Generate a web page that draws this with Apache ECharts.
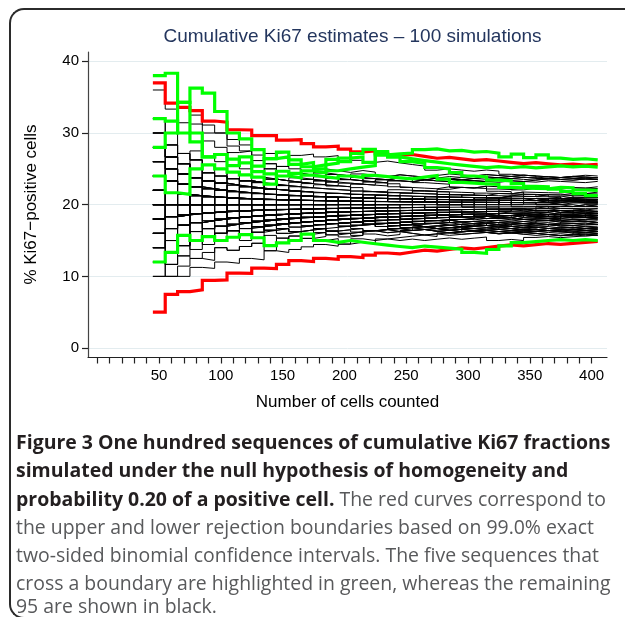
<!DOCTYPE html>
<html>
<head>
<meta charset="utf-8">
<script src="https://cdn.jsdelivr.net/npm/echarts@6/dist/echarts.min.js"></script>
<style>
html,body{margin:0;padding:0;background:#fff;width:625px;height:617px;overflow:hidden;}
#chart{position:absolute;left:0;top:0;width:625px;height:617px;}
#frame{position:absolute;left:9px;top:8px;width:616px;height:611px;border:2px solid #2b2b2b;border-right:none;border-radius:15px 0 0 15px;box-sizing:border-box;pointer-events:none;z-index:5;}
#caption{position:absolute;left:16px;top:428px;font-family:"Open Sans",sans-serif;font-size:18px;color:#58595b;white-space:nowrap;z-index:4;}
#caption .ln{height:28.3px;line-height:28.3px;}
#caption .last{margin-top:-6px;}
#caption b{color:#231f20;font-weight:700;}
</style>
</head>
<body>
<div id="chart"></div>
<div id="caption">
<div class="ln"><span id="l1"><b>Figure 3 One hundred sequences of cumulative Ki67 fractions</b></span></div>
<div class="ln"><b>simulated under the null hypothesis of homogeneity and</b></div>
<div class="ln"><b>probability 0.20 of a positive cell.</b> The red curves correspond to</div>
<div class="ln">the upper and lower rejection boundaries based on 99.0% exact</div>
<div class="ln">two-sided binomial confidence intervals. The five sequences that</div>
<div class="ln"><span id="l6">cross a boundary are highlighted in green, whereas the remaining</span></div>
<div class="ln last">95 are shown in black.</div>
</div>
<div id="frame"></div>
<script>
// ---------- data ----------
const cellCounts = [50,60,70,80,90,100,110,120,130,140,150,160,170,180,190,200,210,220,230,240,250,260,270,280,290,300,310,320,330,340,350,360,370,380,390,400];
const xTickValues = [0,10,20,30,40,50,60,70,80,90,100,110,120,130,140,150,160,170,180,190,200,210,220,230,240,250,260,270,280,290,300,310,320,330,340,350,360,370,380,390,400];
const xLabelValues = [50,100,150,200,250,300,350,400];
const yTickValues = [0,10,20,30,40];

// rejection boundaries (% positive)
const upperBoundary = [37.00,34.17,33.57,33.13,31.67,31.50,30.45,30.42,29.62,29.64,29.00,29.06,28.53,28.06,28.16,27.75,27.38,27.50,27.17,26.88,27.00,26.73,26.48,26.61,26.38,26.17,26.29,26.09,25.91,25.74,25.86,25.69,25.54,25.66,25.51,25.63];
const lowerBoundary = [5.00,7.50,7.86,8.13,9.44,9.50,10.45,10.42,11.15,11.07,11.67,12.19,12.06,12.50,12.37,12.75,12.62,12.95,13.26,13.13,13.40,13.65,13.52,13.75,13.97,13.83,14.03,14.22,14.39,14.26,14.43,14.58,14.46,14.61,14.74,14.88];

// highlighted (boundary-crossing) sequences: cumulative positive counts at each cellCounts value
const greenSeq1 = [19,23,24,29,32,33,33,35,36,37,41,42,43,46,49,53,56,57,62,65,68,72,75,77,80,82,85,87,88,92,93,97,98,100,103,105];
const greenSeq2 = [16,19,21,23,24,27,28,32,33,37,40,41,44,45,50,52,57,61,62,64,66,68,70,72,74,76,78,81,83,86,88,91,94,96,99,101];
const greenSeq3 = [14,18,24,24,24,27,29,31,32,34,36,38,41,43,45,48,50,53,55,57,59,62,65,66,67,69,71,73,74,76,78,80,83,85,86,88];
const greenSeq4 = [12,13,15,20,23,25,27,29,31,32,37,39,42,44,47,50,53,56,63,64,65,67,68,70,71,72,74,75,77,78,79,81,82,83,84,85];
const greenSeq5 = [6,8,11,12,14,15,17,19,20,20,22,24,27,27,28,30,31,32,33,34,35,37,38,39,40,40,41,44,47,50,52,54,56,57,59,60];

// remaining 95 sequences: positives among the first 50 cells, then positives in each further batch of 10 cells
const blackStart = [5,5,6,6,6,6,7,7,7,7,7,7,7,8,8,8,8,8,8,8,8,8,8,9,9,9,9,9,9,9,9,9,9,9,9,9,10,10,10,10,10,10,10,10,10,10,10,10,10,11,11,11,11,11,11,11,11,11,11,11,11,11,11,12,12,12,12,12,12,12,12,12,12,13,13,13,13,13,13,13,13,14,14,14,14,14,14,15,15,15,15,16,16,16,18];
const blackBatches = [
"32312 21323 13222 31242 21302 23132 22213",
"11212 12131 22212 31222 21322 22312 23221",
"12322 31213 22132 42121 12222 31321 22312",
"02213 12203 31231 21123 21212 12122 21321",
"31221 22312 13221 23131 12232 32212 21313",
"13132 20221 12311 23212 31123 22131 21222",
"22131 21232 31212 21222 13231 22212 32121",
"31212 12232 22321 31223 12321 21322 23211",
"21213 32121 12303 22112 21223 13122 12321",
"12232 23312 21431 32212 22321 31312 22231",
"02122 12213 21120 21312 12212 20213 21222",
"32221 21313 22132 11232 23122 13212 22131",
"22312 31222 13122 22131 32213 12221 21322",
"12121 22131 21212 13221 21123 22112 12212",
"23122 31213 22231 21322 12312 23221 31222",
"32131 22212 13212 31222 22131 12321 22213",
"21322 12231 32122 21213 31221 22132 13122",
"13222 32123 22312 41222 13232 22321 32212",
"22121 21312 12211 22121 12212 21221 12131",
"31232 22321 13222 23132 21232 32213 22322",
"22213 13122 21321 32122 12312 21321 23122",
"32322 23122 32213 12332 23212 32123 21332",
"12312 22131 22212 13122 21221 12312 32121",
"23122 21312 22131 31222 12321 23122 21213",
"32213 22132 13222 32312 22131 31322 23212",
"21212 12121 21312 12221 21122 12212 21121",
"32132 23221 32132 21322 23123 22312 32222",
"12213 22122 13212 22131 21222 31212 22122",
"23231 32222 24132 32213 22322 13232 22313",
"21322 12223 22132 31221 22312 21232 31222",
"13122 22213 21231 22122 13212 22221 12312",
"32222 13232 22312 32231 23222 13321 22322",
"22131 21212 12312 21221 12212 31121 21212",
"23212 32132 21322 13222 32213 22132 23221",
"31222 22312 13213 22231 31222 21322 13232",
"22322 31232 23213 32222 22313 32231 22322",
"21222 13212 22131 21312 22122 12212 21321",
"32213 22132 31223 22312 13222 22321 31222",
"12122 21211 12212 21121 12122 21212 11221",
"23232 32223 22332 23232 32322 23223 32232",
"22131 31222 21312 12232 22121 31222 21231",
"31322 22213 32122 21322 32131 22312 13222",
"22212 12131 21212 22121 11222 21212 12212",
"32232 23322 32313 22332 32223 23322 32232",
"21312 22122 13221 22131 21312 22213 12221",
"13222 31232 22312 31222 22231 32122 21322",
"22323 23132 32222 13232 22332 32213 22322",
"12212 21122 12131 22112 21212 11221 22121",
"31222 21312 22131 32122 12213 21322 22131",
"22132 13222 32123 22312 23122 12322 31222",
"21212 12121 21122 11212 21221 12122 12112",
"32322 23232 22342 32232 23322 32232 22332",
"13212 22131 21222 31212 22122 13221 21312",
"22213 31222 13232 22312 32122 21322 23213",
"21231 12212 22121 21312 12212 22121 21221",
"32232 22313 23222 32231 22322 31232 23223",
"12321 21222 31212 22131 21222 12312 22122",
"23122 32213 22131 31222 22312 13222 32212",
"22122 12212 21212 12122 21121 22112 12212",
"31322 22231 32212 23122 12322 32213 22312",
"22212 31212 12221 21222 31221 12212 21222",
"32223 23232 22323 32232 23223 32322 23232",
"21221 12122 21212 12211 21122 12121 21212",
"22312 21322 13222 22131 31222 21312 22213",
"12212 21121 12212 21122 12121 21212 12211",
"32232 23222 32313 22332 23223 32232 23322",
"21312 22131 21222 13212 22122 21321 12222",
"23213 32122 21322 13232 32212 22231 31322",
"12122 21212 12121 21212 11221 21212 12122",
"22231 31222 22132 13222 22312 32122 21322",
"31212 12222 21312 22121 12222 21212 22131",
"22322 32232 23223 22332 32232 23232 32223",
"21221 12212 22121 21212 12212 21121 12212",
"22131 12212 21212 12122 21212 12212 21221",
"32213 22312 13222 31222 22132 21322 32212",
"12121 21211 12122 21112 12121 21211 11212",
"22312 31222 22132 21322 13222 22312 23122",
"21212 22121 12212 21221 12122 21212 12212",
"32232 22322 32223 23232 22323 32232 22322",
"22131 13212 21222 31212 22122 12321 21222",
"12212 21212 11221 21121 12212 21112 12211",
"22212 12122 21212 12221 21122 12212 21212",
"23322 32223 22322 32122 12212 21212 12121",
"12121 21112 11212 21121 12112 11211 21221",
"22322 32232 22312 23222 32232 22322 32223",
"21212 12212 21121 12212 21212 12121 21212",
"22131 21312 12221 22131 21222 13212 22131",
"21212 12121 21211 12122 21212 11212 21211",
"33423 22223 23232 22322 21322 32122 13222",
"12121 21212 12112 21211 12121 21121 12211",
"22213 12212 21222 13212 22121 12221 21222",
"12212 21211 21221 12212 21212 12121 21221",
"21222 12212 22121 21212 12221 21212 12122",
"32322 23212 32122 21212 12121 21212 12122",
"22422 12121 21212 12211 21122 12121 21212"
];

// ---------- helpers ----------
const HALF_STEP = 5;
function toPercent(counts){ return counts.map((c,i)=>100*c/cellCounts[i]); }
function cumulative(start, batches){
  const out=[start]; let c=start;
  batches.replace(/\s/g,'').split('').forEach(d=>{ c+=Number(d); out.push(c); });
  return out;
}
function stepPoints(p){
  const pts = p.map((v,i)=>[cellCounts[i]-HALF_STEP, v]);
  pts.push([cellCounts[cellCounts.length-1]+HALF_STEP, p[p.length-1]]);
  return pts;
}
function lineSeries(data, color, width, z){
  return {type:'line', step:'end', data:data, symbol:'none', showSymbol:false, silent:true,
    animation:false, z:z, lineStyle:{color:color, width:width, cap:'butt', join:'miter'}};
}

const series = [];
blackStart.forEach((k,i)=>series.push(lineSeries(stepPoints(toPercent(cumulative(k, blackBatches[i]))), '#000000', 1, 2)));
[upperBoundary, lowerBoundary].forEach(b=>series.push(lineSeries(stepPoints(b), '#ff0000', 3.2, 3)));
[greenSeq1, greenSeq2, greenSeq3, greenSeq4, greenSeq5].forEach(g=>series.push(lineSeries(stepPoints(toPercent(g)), '#00ff00', 3.2, 4)));

const FONT = '"Liberation Sans", Arial, Helvetica, sans-serif';
const chart = echarts.init(document.getElementById('chart'), null, {renderer:'canvas'});
chart.setOption({
  animation:false,
  backgroundColor:'transparent',
  title:{text:'Cumulative Ki67 estimates – 100 simulations', left:347.5, top:22, textAlign:'center',
    textStyle:{fontFamily:FONT, fontSize:19, fontWeight:'normal', color:'#24365e'}},
  grid:{left:88, right:18, top:52, bottom:260, containLabel:false},
  xAxis:{type:'value', min:-7.5, max:412.5,
    name:'Number of cells counted', nameLocation:'middle', nameGap:37,
    nameTextStyle:{fontFamily:FONT, fontSize:17, color:'#000'},
    axisLine:{onZero:false, lineStyle:{color:'#222', width:1.2}},
    axisTick:{customValues:xTickValues, length:6.5, lineStyle:{color:'#222', width:1.2}},
    axisLabel:{customValues:xLabelValues, fontFamily:FONT, fontSize:15, color:'#000', margin:11},
    splitLine:{show:false}},
  yAxis:{type:'value', min:-1.25, max:41.3,
    name:'% Ki67−positive cells', nameLocation:'middle', nameGap:48, nameRotate:90,
    nameTextStyle:{fontFamily:FONT, fontSize:17, color:'#000'},
    axisLine:{onZero:false, lineStyle:{color:'#444', width:1.2}},
    axisTick:{customValues:yTickValues, length:6, lineStyle:{color:'#222', width:1.2}},
    axisLabel:{customValues:yTickValues, fontFamily:FONT, fontSize:15, color:'#000', margin:9},
    splitLine:{show:true, lineStyle:{color:'#e3ecef', width:1}}},
  series:series
});

// fit caption lines to the figure width
(function(){
  const target = 595;
  const b1 = document.getElementById('l1').getBoundingClientRect().width;
  const r6 = document.getElementById('l6').getBoundingClientRect().width;
  const rs = 18*target/r6, bs = 18*target/b1;
  document.getElementById('caption').style.fontSize = rs+'px';
  document.querySelectorAll('#caption b').forEach(e=>e.style.fontSize = bs+'px');
})();
</script>
</body>
</html>
